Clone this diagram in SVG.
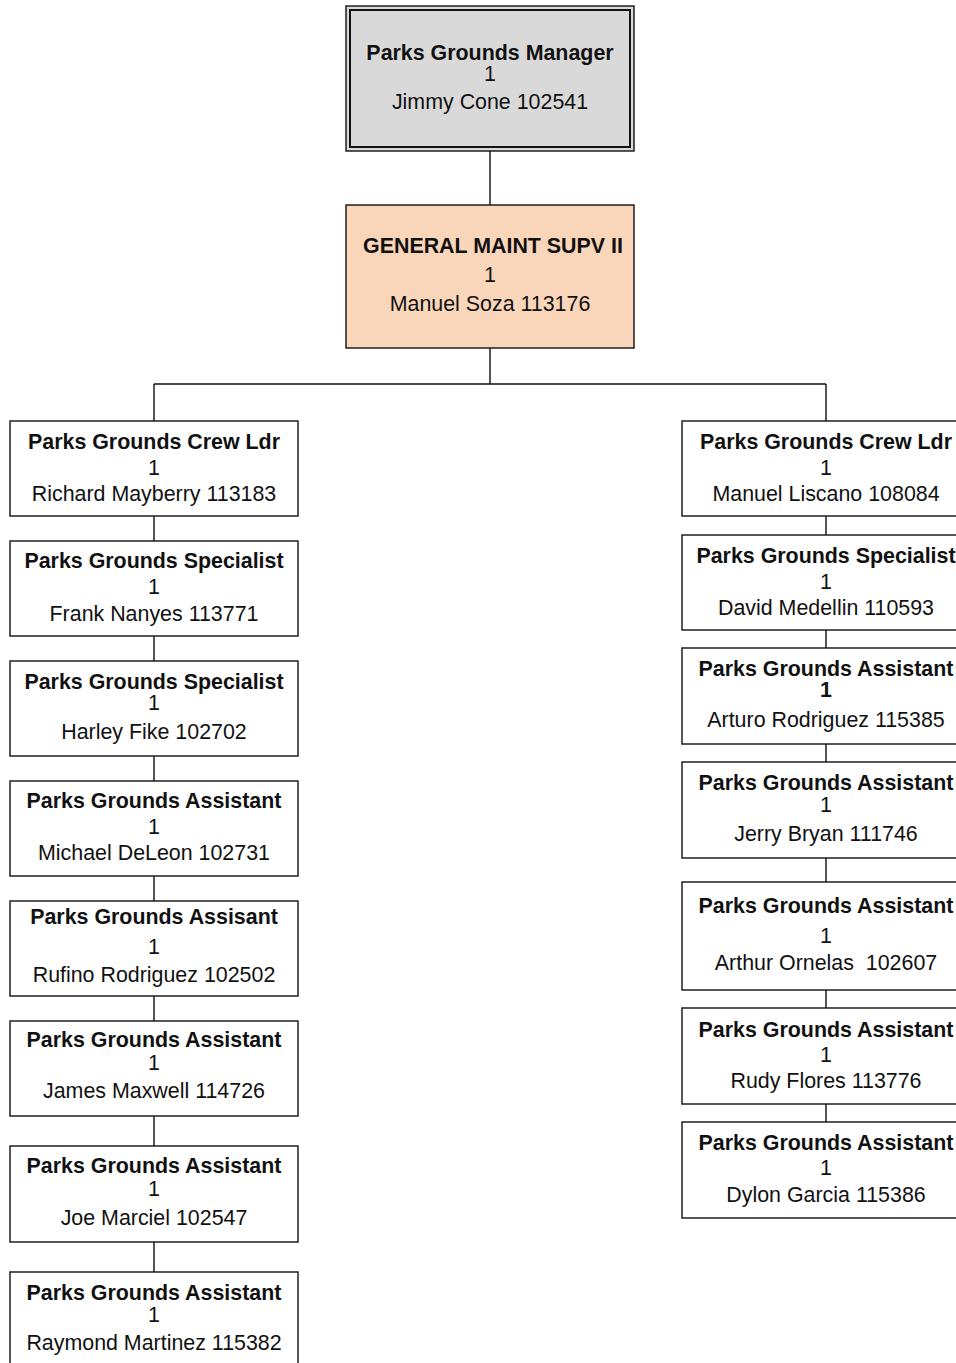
<svg xmlns="http://www.w3.org/2000/svg" width="956" height="1363" viewBox="0 0 956 1363">
<style>
.box{fill:#fff;stroke:#111;stroke-width:1.4}
.t{font-family:"Liberation Sans",Arial,sans-serif;font-size:21.4px;fill:#111;text-anchor:middle}
.b{font-weight:bold}
.c{stroke:#111;stroke-width:1.4;fill:none}
</style>
<rect width="956" height="1363" fill="#fff"/>
<g id="connectors">
<path class="c" d="M490,151V205 M490,348V384 M154,384H826 M154,384V421 M826,384V421"/>
<path class="c" d="M154,516V541 M154,636V661 M154,756V781 M154,876V901 M154,996V1021 M154,1116V1146 M154,1242V1272"/>
<path class="c" d="M826,516V535 M826,630V648 M826,744V762 M826,858V882 M826,990V1008 M826,1104V1122"/>
</g>
<g id="n-manager">
<rect x="346" y="6" width="288" height="145" fill="#d9d9d9" stroke="#111" stroke-width="1.4"/>
<rect x="350" y="10" width="280" height="137" fill="none" stroke="#111" stroke-width="2"/>
<text class="t b" x="490" y="60">Parks Grounds Manager</text>
<text class="t" x="490" y="81">1</text>
<text class="t" x="490" y="109">Jimmy Cone 102541</text>
</g>
<g id="n-gms">
<rect x="346" y="205" width="288" height="143" fill="#f9d6b9" stroke="#111" stroke-width="1.4"/>
<text class="t b" x="493" y="253">GENERAL MAINT SUPV II</text>
<text class="t" x="490" y="282">1</text>
<text class="t" x="490" y="311">Manuel Soza 113176</text>
</g>
<g id="n-l1">
<rect class="box" x="10" y="421" width="288" height="95"/>
<text class="t b" x="154" y="449">Parks Grounds Crew Ldr</text>
<text class="t" x="154" y="475">1</text>
<text class="t" x="154" y="501">Richard Mayberry 113183</text>
</g>
<g id="n-l2">
<rect class="box" x="10" y="541" width="288" height="95"/>
<text class="t b" x="154" y="568">Parks Grounds Specialist</text>
<text class="t" x="154" y="594">1</text>
<text class="t" x="154" y="621">Frank Nanyes 113771</text>
</g>
<g id="n-l3">
<rect class="box" x="10" y="661" width="288" height="95"/>
<text class="t b" x="154" y="689">Parks Grounds Specialist</text>
<text class="t" x="154" y="710">1</text>
<text class="t" x="154" y="739">Harley Fike 102702</text>
</g>
<g id="n-l4">
<rect class="box" x="10" y="781" width="288" height="95"/>
<text class="t b" x="154" y="808">Parks Grounds Assistant</text>
<text class="t" x="154" y="834">1</text>
<text class="t" x="154" y="860">Michael DeLeon 102731</text>
</g>
<g id="n-l5">
<rect class="box" x="10" y="901" width="288" height="95"/>
<text class="t b" x="154" y="924">Parks Grounds Assisant</text>
<text class="t" x="154" y="954">1</text>
<text class="t" x="154" y="982">Rufino Rodriguez 102502</text>
</g>
<g id="n-l6">
<rect class="box" x="10" y="1021" width="288" height="95"/>
<text class="t b" x="154" y="1047">Parks Grounds Assistant</text>
<text class="t" x="154" y="1070">1</text>
<text class="t" x="154" y="1098">James Maxwell 114726</text>
</g>
<g id="n-l7">
<rect class="box" x="10" y="1146" width="288" height="96"/>
<text class="t b" x="154" y="1173">Parks Grounds Assistant</text>
<text class="t" x="154" y="1196">1</text>
<text class="t" x="154" y="1225">Joe Marciel 102547</text>
</g>
<g id="n-l8">
<rect class="box" x="10" y="1272" width="288" height="96"/>
<text class="t b" x="154" y="1300">Parks Grounds Assistant</text>
<text class="t" x="154" y="1322">1</text>
<text class="t" x="154" y="1350">Raymond Martinez 115382</text>
</g>
<g id="n-r1">
<rect class="box" x="682" y="421" width="288" height="95"/>
<text class="t b" x="826" y="449">Parks Grounds Crew Ldr</text>
<text class="t" x="826" y="475">1</text>
<text class="t" x="826" y="501">Manuel Liscano 108084</text>
</g>
<g id="n-r2">
<rect class="box" x="682" y="535" width="288" height="95"/>
<text class="t b" x="826" y="563">Parks Grounds Specialist</text>
<text class="t" x="826" y="589">1</text>
<text class="t" x="826" y="615">David Medellin 110593</text>
</g>
<g id="n-r3">
<rect class="box" x="682" y="648" width="288" height="96"/>
<text class="t b" x="826" y="676">Parks Grounds Assistant</text>
<text class="t b" x="826" y="697">1</text>
<text class="t" x="826" y="727">Arturo Rodriguez 115385</text>
</g>
<g id="n-r4">
<rect class="box" x="682" y="762" width="288" height="96"/>
<text class="t b" x="826" y="790">Parks Grounds Assistant</text>
<text class="t" x="826" y="812">1</text>
<text class="t" x="826" y="841">Jerry Bryan 111746</text>
</g>
<g id="n-r5">
<rect class="box" x="682" y="882" width="288" height="108"/>
<text class="t b" x="826" y="913">Parks Grounds Assistant</text>
<text class="t" x="826" y="943">1</text>
<text class="t" x="826" y="970" xml:space="preserve">Arthur Ornelas  102607</text>
</g>
<g id="n-r6">
<rect class="box" x="682" y="1008" width="288" height="96"/>
<text class="t b" x="826" y="1037">Parks Grounds Assistant</text>
<text class="t" x="826" y="1062">1</text>
<text class="t" x="826" y="1088">Rudy Flores 113776</text>
</g>
<g id="n-r7">
<rect class="box" x="682" y="1122" width="288" height="96"/>
<text class="t b" x="826" y="1150">Parks Grounds Assistant</text>
<text class="t" x="826" y="1175">1</text>
<text class="t" x="826" y="1202">Dylon Garcia 115386</text>
</g>
</svg>
